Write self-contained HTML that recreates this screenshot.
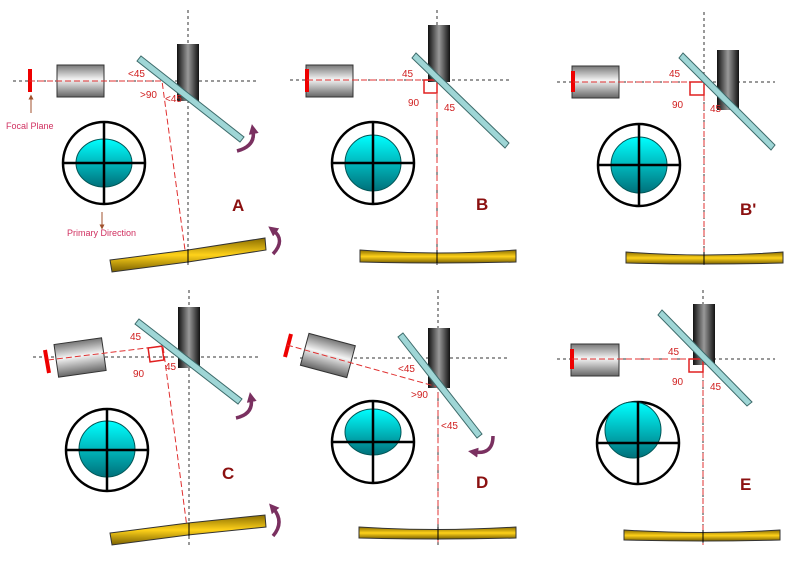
<!DOCTYPE html>
<html><head><meta charset="utf-8"><style>body{margin:0;background:#fff}svg{display:block}text{font-family:"Liberation Sans",sans-serif}</style></head><body>
<svg width="800" height="563" viewBox="0 0 800 563" xmlns="http://www.w3.org/2000/svg">
<defs>
<linearGradient id="ep" x1="0" y1="0" x2="0" y2="1"><stop offset="0" stop-color="#777"/><stop offset=".45" stop-color="#f4f4f4"/><stop offset="1" stop-color="#666"/></linearGradient>
<linearGradient id="tb" x1="0" y1="0" x2="1" y2="0"><stop offset="0" stop-color="#111"/><stop offset=".5" stop-color="#999"/><stop offset="1" stop-color="#111"/></linearGradient>
<linearGradient id="au" x1="0" y1="0" x2="0" y2="1"><stop offset="0" stop-color="#8a6d00"/><stop offset=".5" stop-color="#ffd21a"/><stop offset="1" stop-color="#7a6000"/></linearGradient>
<linearGradient id="cy" x1="0" y1="0" x2="0" y2="1"><stop offset="0" stop-color="#00ffff"/><stop offset="1" stop-color="#00707a"/></linearGradient>
<marker id="ah" viewBox="0 0 10 10" refX="4" refY="5" markerWidth="10" markerHeight="10" markerUnits="userSpaceOnUse" orient="auto"><path d="M0 0L10 5L0 10z" fill="#7a3060"/></marker>
<marker id="sa" viewBox="0 0 10 10" refX="5" refY="5" markerWidth="5" markerHeight="5" markerUnits="userSpaceOnUse" orient="auto"><path d="M0 0L10 5L0 10z" fill="#a0522d"/></marker>
</defs>
<g fill="none" stroke="#333" stroke-width="1" stroke-dasharray="3,3">
<line x1="13" y1="81" x2="258" y2="81"/><line x1="188" y1="10" x2="188" y2="265"/>
<line x1="290" y1="80" x2="512" y2="80"/><line x1="437" y1="10" x2="437" y2="265"/>
<line x1="557" y1="82" x2="775" y2="82"/><line x1="704" y1="12" x2="704" y2="265"/>
<line x1="33" y1="357" x2="258" y2="357"/><line x1="189" y1="290" x2="189" y2="545"/>
<line x1="300" y1="358" x2="510" y2="358"/><line x1="438" y1="290" x2="438" y2="545"/>
<line x1="557" y1="359" x2="775" y2="359"/><line x1="703" y1="290" x2="703" y2="545"/>
</g>
<rect x="177" y="44" width="22" height="57" fill="url(#tb)"/>
<rect x="428" y="25" width="22" height="57" fill="url(#tb)"/>
<rect x="717" y="50" width="22" height="60" fill="url(#tb)"/>
<rect x="178" y="307" width="22" height="61" fill="url(#tb)"/>
<rect x="428" y="328" width="22" height="60" fill="url(#tb)"/>
<rect x="693" y="304" width="22" height="61" fill="url(#tb)"/>
<g stroke="#333" stroke-width="1" fill="url(#ep)">
<rect x="57" y="65" width="47" height="32"/>
<rect x="306" y="65" width="47" height="32"/>
<rect x="572" y="66" width="47" height="32"/>
<rect x="-24" y="-16" width="48" height="33" transform="translate(80 357) rotate(-8)"/>
<rect x="-24" y="-16" width="48" height="33" transform="translate(328 355) rotate(15)"/>
<rect x="571" y="344" width="48" height="32"/>
</g>
<g stroke="#e00" stroke-width="4">
<line x1="30" y1="69" x2="30" y2="92"/><line x1="307" y1="69" x2="307" y2="92"/><line x1="573" y1="71" x2="573" y2="92"/>
<line x1="45" y1="350" x2="49" y2="373"/><line x1="291" y1="334" x2="285" y2="357"/><line x1="572" y1="349" x2="572" y2="369"/>
</g>
<g fill="none" stroke="#e03030" stroke-width="1" stroke-dasharray="6,3">
<polyline points="29,81 162,81 185,250"/>
<polyline points="307,80 437,80 437,258"/>
<polyline points="573,82 704,82 704,258"/>
<polyline points="48,360 163,346 188,535"/>
<polyline points="287,345 438,387 438,545"/>
<polyline points="572,359 703,359 703,545"/>
</g>
<g fill="none" stroke="#e02020" stroke-width="1.5">
<rect x="424" y="80" width="13" height="13"/><rect x="690" y="82" width="14" height="13"/>
<rect x="-7" y="-7" width="14" height="14" transform="translate(156 354) rotate(-8)"/>
<rect x="689" y="359" width="14" height="13"/>
</g>
<g stroke="#3d6b6b" stroke-width="1" fill="#9fd6d6">
<polygon points="141,56 244,137 240,142 137,61"/>
<polygon points="416,53 509,143 505,148 412,58"/>
<polygon points="683,53 775,145 771,150 679,58"/>
<polygon points="139,319 242,399 238,404 135,324"/>
<polygon points="403,333 482,434 477,438 398,337"/>
<polygon points="662,310 752,402 747,406 658,315"/>
</g>
<g stroke="#000" stroke-width="2.5">
<circle cx="104" cy="163" r="41" fill="#fff"/><ellipse cx="104" cy="163" rx="28" ry="24" fill="url(#cy)" stroke="#055" stroke-width="1"/>
<line x1="63" y1="163" x2="145" y2="163"/><line x1="104" y1="122" x2="104" y2="204"/>
<circle cx="373" cy="163" r="41" fill="#fff"/><circle cx="373" cy="163" r="28" fill="url(#cy)" stroke="#055" stroke-width="1"/>
<line x1="332" y1="163" x2="414" y2="163"/><line x1="373" y1="122" x2="373" y2="204"/>
<circle cx="639" cy="165" r="41" fill="#fff"/><circle cx="639" cy="165" r="28" fill="url(#cy)" stroke="#055" stroke-width="1"/>
<line x1="598" y1="165" x2="680" y2="165"/><line x1="639" y1="124" x2="639" y2="206"/>
<circle cx="107" cy="450" r="41" fill="#fff"/><circle cx="107" cy="449" r="28" fill="url(#cy)" stroke="#055" stroke-width="1"/>
<line x1="66" y1="450" x2="148" y2="450"/><line x1="107" y1="409" x2="107" y2="491"/>
<circle cx="373" cy="442" r="41" fill="#fff"/><ellipse cx="373" cy="432" rx="28" ry="23" fill="url(#cy)" stroke="#055" stroke-width="1"/>
<line x1="332" y1="442" x2="414" y2="442"/><line x1="373" y1="401" x2="373" y2="483"/>
<circle cx="638" cy="443" r="41" fill="#fff"/><circle cx="633" cy="430" r="28" fill="url(#cy)" stroke="#055" stroke-width="1"/>
<line x1="597" y1="443" x2="679" y2="443"/><line x1="638" y1="402" x2="638" y2="484"/>
</g>
<g stroke="#333" stroke-width="1" fill="url(#au)">
<polygon points="110,260 188,250 265,238 266,250 188,262 112,272"/>
<path d="M360 250 Q437 256 516 250 L516 262 Q437 264 360 262Z"/>
<path d="M626 252 Q704 258 783 252 L783 263 Q704 265 626 263Z"/>
<polygon points="110,533 188,523 265,515 266,527 188,535 112,545"/>
<path d="M359 527 Q438 532 516 527 L516 538 Q438 540 359 538Z"/>
<path d="M624 530 Q703 535 780 530 L780 540 Q703 542 624 540Z"/>
</g>
<g stroke="#000" stroke-width="1"><line x1="188" y1="249" x2="188" y2="263"/><line x1="437" y1="250" x2="437" y2="263"/><line x1="704" y1="252" x2="704" y2="264"/><line x1="189" y1="523" x2="189" y2="536"/><line x1="438" y1="527" x2="438" y2="540"/><line x1="703" y1="530" x2="703" y2="542"/></g>
<g fill="none" stroke="#7a3060" stroke-width="3.5" marker-end="url(#ah)">
<path d="M237 151 Q256 146 253 130"/>
<path d="M273 254 Q286 240 273 230"/>
<path d="M236 418 Q254 414 251 398"/>
<path d="M273 536 Q285 522 273 508"/>
<path d="M493 436 Q493 455 474 452"/>
</g>
<g stroke="#a0522d" stroke-width="1" marker-end="url(#sa)"><line x1="31" y1="113" x2="31" y2="97"/><line x1="102" y1="212" x2="102" y2="227"/></g>
<g fill="#d02020" font-size="10">
<text x="128" y="77">&lt;45</text><text x="140" y="98">&gt;90</text><text x="165" y="102">&lt;45</text>
<text x="402" y="77">45</text><text x="408" y="106">90</text><text x="444" y="111">45</text>
<text x="669" y="77">45</text><text x="672" y="108">90</text><text x="710" y="112">45</text>
<text x="130" y="340">45</text><text x="133" y="377">90</text><text x="165" y="370">45</text>
<text x="398" y="372">&lt;45</text><text x="411" y="398">&gt;90</text><text x="441" y="429">&lt;45</text>
<text x="668" y="355">45</text><text x="672" y="385">90</text><text x="710" y="390">45</text>
</g>
<g fill="#d03060" font-size="9"><text x="6" y="129">Focal Plane</text><text x="67" y="236">Primary Direction</text></g>
<g fill="#8b1010" font-size="17" font-weight="bold">
<text x="232" y="211">A</text><text x="476" y="210">B</text><text x="740" y="215">B'</text>
<text x="222" y="479">C</text><text x="476" y="488">D</text><text x="740" y="490">E</text>
</g>
</svg>
</body></html>
